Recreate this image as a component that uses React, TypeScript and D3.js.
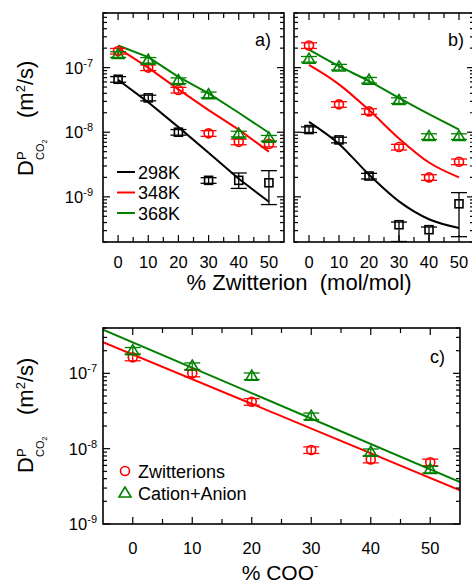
import React from 'react';
import * as d3 from 'd3';

// ---------- data ----------
const xCats = [0, 10, 20, 30, 40, 50];

// panel a (measured)
const a298 = [6.6e-8, 3.4e-8, 1.0e-8, 1.8e-9, 1.8e-9, 1.65e-9];
const a348 = [1.8e-7, 1.0e-7, 4.5e-8, 9.6e-9, 7.1e-9, 6.6e-9];
const a368 = [1.6e-7, 1.3e-7, 6.3e-8, 3.8e-8, 9.4e-9, 8.1e-9];
const a298Up = [0.1, 0.1, 0.1, 0.1, 0.3, 0.54];
const a298Dn = [0.1, 0.1, 0.1, 0.1, 0.25, 0.54];
// panel a (fits)
const fitA298 = [6.5e-8, 2.9e-8, 1.2e-8, 4.8e-9, 1.9e-9, 8.4e-10];
const fitA348 = [2.0e-7, 1.0e-7, 4.6e-8, 2.2e-8, 1.1e-8, 5.0e-9];
const fitA368 = [2.2e-7, 1.45e-7, 7.2e-8, 4.0e-8, 2.0e-8, 9.8e-9];

// panel b (measured)
const b298 = [1.1e-8, 7.6e-9, 2.1e-9, 3.7e-10, 3.1e-10, 7.8e-10];
const b348 = [2.2e-7, 2.7e-8, 2.1e-8, 5.9e-9, 2.0e-9, 3.5e-9];
const b368 = [1.35e-7, 1.02e-7, 6.4e-8, 3.1e-8, 8.6e-9, 8.6e-9];
const b298Up = [0.1, 0.1, 0.1, 0.1, 0.1, 0.49];
const b298Dn = [0.1, 0.1, 0.1, 0.45, 0.45, 0.69];
// panel b (fits)
const fitB298 = [1.45e-8, 6.6e-9, 2.2e-9, 8.5e-10, 4.5e-10, 3.3e-10];
const fitB348 = [1.1e-7, 5.5e-8, 2.2e-8, 8.0e-9, 3.4e-9, 2.0e-9];
const fitB368 = [1.9e-7, 1.05e-7, 6.2e-8, 3.4e-8, 1.9e-8, 1.1e-8];

// panel c
const cZwitterions = [1.63e-7, 1.0e-7, 4.2e-8, 9.6e-9, 7.2e-9, 6.6e-9];
const cCationAnion = [2.0e-7, 1.25e-7, 9.2e-8, 2.7e-8, 9.0e-9, 5.3e-9];
const fitCX = [-5, 55];
const fitCZwitterions = [2.6e-7, 2.8e-9];
const fitCCationAnion = [3.8e-7, 3.6e-9];

const smallErr = [0.1, 0.1, 0.1, 0.1, 0.1, 0.1];

const legendA = ['298K', '348K', '368K'];
const legendC = ['Zwitterions', 'Cation+Anion'];
const yTickExps = [-7, -8, -9];
const xTickLabels = [0, 10, 20, 30, 40, 50];

const BLACK = '#000000';
const RED = '#ff0000';
const GREEN = '#008000';
const FONT = '"Liberation Sans", Arial, Helvetica, sans-serif';

type MarkerKind = 'square' | 'circle' | 'triangle';
type Series = { vals: number[]; up: number[]; dn: number[]; color: string; marker: MarkerKind };
type Fit = { xs: number[]; vals: number[]; color: string };

function Marker({ kind, x, y, color }: { kind: MarkerKind; x: number; y: number; color: string }) {
  const sw = 1.6;
  if (kind === 'square') return <rect x={x - 4} y={y - 4} width={8} height={8} fill="none" stroke={color} strokeWidth={sw} />;
  if (kind === 'circle') return <circle cx={x} cy={y} r={4.5} fill="none" stroke={color} strokeWidth={sw} />;
  return <polygon points={`${x},${y - 6} ${x - 6},${y + 4} ${x + 6},${y + 4}`} fill="none" stroke={color} strokeWidth={sw} strokeLinejoin="miter" />;
}

interface PanelProps {
  id: string;
  left: number; right: number; top: number; bottom: number;
  yDomain: [number, number];
  series: Series[];
  fits: Fit[];
  smooth: boolean;
  yLabels: boolean;
  yLabelX: number;
  xLabelY: number;
}

function Panel(p: PanelProps) {
  const x = d3.scaleLinear().domain([-5, 55]).range([p.left, p.right]);
  const y = d3.scaleLog().domain(p.yDomain).range([p.bottom, p.top]);
  const [lo, hi] = p.yDomain;
  const yTicks: { v: number; major: boolean }[] = [];
  for (let e = Math.floor(Math.log10(lo)); e <= Math.ceil(Math.log10(hi)); e++) {
    for (let k = 1; k <= 9; k++) {
      const v = k * Math.pow(10, e);
      if (v >= lo * 0.9999 && v <= hi * 1.0001) yTicks.push({ v, major: k === 1 });
    }
  }
  const xTicks = d3.range(0, 51, 5);
  const line = d3.line<[number, number]>().x(d => x(d[0])).y(d => y(d[1]))
    .curve(p.smooth ? d3.curveMonotoneX : d3.curveLinear);
  const clipId = `clip-${p.id}`;
  return (
    <g>
      <defs>
        <clipPath id={clipId}>
          <rect x={p.left} y={p.top} width={p.right - p.left} height={p.bottom - p.top} />
        </clipPath>
      </defs>
      <g clipPath={`url(#${clipId})`}>
        {p.fits.map((f, i) => (
          <path key={i} d={line(f.xs.map((xv, j) => [xv, f.vals[j]] as [number, number])) || ''} fill="none" stroke={f.color} strokeWidth={2} strokeLinejoin="round" />
        ))}
        {p.series.map((s, si) => (
          <g key={si}>
            {s.vals.map((v, i) => {
              const cx = x(xCats[i]);
              const cy = y(v);
              const yHi = y(v * (1 + s.up[i]));
              const yLo = y(Math.max(v * (1 - s.dn[i]), 1e-12));
              return (
                <g key={i} stroke={s.color} strokeWidth={1.3}>
                  <line x1={cx} x2={cx} y1={yHi} y2={yLo} />
                  <line x1={cx - 8} x2={cx + 8} y1={yHi} y2={yHi} />
                  <line x1={cx - 8} x2={cx + 8} y1={yLo} y2={yLo} />
                  <Marker kind={s.marker} x={cx} y={cy} color={s.color} />
                </g>
              );
            })}
          </g>
        ))}
      </g>
      {/* ticks */}
      <g stroke={BLACK} strokeWidth={1.2}>
        {yTicks.map((t, i) => {
          const len = t.major ? 7 : 4;
          const yy = y(t.v);
          return (
            <g key={i}>
              <line x1={p.left} x2={p.left + len} y1={yy} y2={yy} />
              <line x1={p.right} x2={p.right - len} y1={yy} y2={yy} />
            </g>
          );
        })}
        {xTicks.map((t, i) => {
          const len = t % 10 === 0 ? 7 : 5;
          const xx = x(t);
          return (
            <g key={i}>
              <line x1={xx} x2={xx} y1={p.bottom} y2={p.bottom - len} />
              <line x1={xx} x2={xx} y1={p.top} y2={p.top + len} />
            </g>
          );
        })}
      </g>
      <rect x={p.left} y={p.top} width={p.right - p.left} height={p.bottom - p.top} fill="none" stroke={BLACK} strokeWidth={1.6} />
      {/* tick labels */}
      {xTickLabels.map((t, i) => (
        <text key={i} x={x(t)} y={p.xLabelY} textAnchor="middle" fontSize={16.5} fontFamily={FONT}>{t}</text>
      ))}
      {p.yLabels && yTickExps.map((e, i) => (
        <text key={i} x={p.yLabelX} y={y(Math.pow(10, e)) + 6} textAnchor="end" fontSize={16.5} fontFamily={FONT}>
          10<tspan fontSize={11} dy={-7}>{`-${Math.abs(e)}`}</tspan>
        </text>
      ))}
    </g>
  );
}

function YLabel({ x, y0 }: { x: number; y0: number }) {
  return (
    <text transform={`translate(${x},${y0}) rotate(-90)`} fontFamily={FONT} fontSize={22}>
      <tspan x={0} y={0}>D</tspan>
      <tspan x={16} y={-7} fontSize={13}>P</tspan>
      <tspan x={16} y={11} fontSize={11}>CO</tspan>
      <tspan y={14} fontSize={7}>2</tspan>
      <tspan x={58} y={0}>(m</tspan>
      <tspan y={-8} fontSize={13}>2</tspan>
      <tspan y={0}>/s)</tspan>
    </text>
  );
}

export default function App() {
  const seriesA: Series[] = [
    { vals: a298, up: a298Up, dn: a298Dn, color: BLACK, marker: 'square' },
    { vals: a348, up: smallErr, dn: smallErr, color: RED, marker: 'circle' },
    { vals: a368, up: smallErr, dn: smallErr, color: GREEN, marker: 'triangle' },
  ];
  const fitsA: Fit[] = [
    { xs: xCats, vals: fitA298, color: BLACK },
    { xs: xCats, vals: fitA348, color: RED },
    { xs: xCats, vals: fitA368, color: GREEN },
  ];
  const seriesB: Series[] = [
    { vals: b298, up: b298Up, dn: b298Dn, color: BLACK, marker: 'square' },
    { vals: b348, up: smallErr, dn: smallErr, color: RED, marker: 'circle' },
    { vals: b368, up: smallErr, dn: smallErr, color: GREEN, marker: 'triangle' },
  ];
  const fitsB: Fit[] = [
    { xs: xCats, vals: fitB298, color: BLACK },
    { xs: xCats, vals: fitB348, color: RED },
    { xs: xCats, vals: fitB368, color: GREEN },
  ];
  const seriesC: Series[] = [
    { vals: cZwitterions, up: smallErr, dn: smallErr, color: RED, marker: 'circle' },
    { vals: cCationAnion, up: smallErr, dn: smallErr, color: GREEN, marker: 'triangle' },
  ];
  const fitsC: Fit[] = [
    { xs: fitCX, vals: fitCZwitterions, color: RED },
    { xs: fitCX, vals: fitCCationAnion, color: GREEN },
  ];
  const legendColors = [BLACK, RED, GREEN];
  const legendCMarkers: MarkerKind[] = ['circle', 'triangle'];
  const legendCColors = [RED, GREEN];
  return (
    <svg width={472} height={586} style={{ position: 'absolute', left: 0, top: 0, background: '#fff' }} fontFamily={FONT}>
      <rect x={0} y={0} width={472} height={586} fill="#fff" />
      <Panel id="a" left={103} right={284} top={13} bottom={242} yDomain={[2e-10, 7e-7]} series={seriesA} fits={fitsA} smooth={false} yLabels={true} yLabelX={93} xLabelY={268} />
      <Panel id="b" left={294} right={474} top={13} bottom={242} yDomain={[2e-10, 7e-7]} series={seriesB} fits={fitsB} smooth={true} yLabels={false} yLabelX={0} xLabelY={268} />
      <Panel id="c" left={103} right={460} top={328} bottom={524} yDomain={[1e-9, 4e-7]} series={seriesC} fits={fitsC} smooth={false} yLabels={true} yLabelX={97} xLabelY={554} />

      <text x={271} y={46} textAnchor="end" fontSize={18}>a)</text>
      <text x={464} y={46} textAnchor="end" fontSize={18}>b)</text>
      <text x={445} y={363} textAnchor="end" fontSize={18}>c)</text>

      {legendA.map((l, i) => (
        <g key={l}>
          <line x1={117} x2={135} y1={172 + i * 20.5} y2={172 + i * 20.5} stroke={legendColors[i]} strokeWidth={2} />
          <text x={138} y={172 + i * 20.5 + 6.5} fontSize={18}>{l}</text>
        </g>
      ))}
      {legendC.map((l, i) => (
        <g key={l}>
          <Marker kind={legendCMarkers[i]} x={125} y={471 + i * 22} color={legendCColors[i]} />
          <text x={138} y={471 + i * 22 + 6.5} fontSize={18}>{l}</text>
        </g>
      ))}

      <text x={299} y={290} textAnchor="middle" fontSize={22} xmlSpace="preserve" style={{ whiteSpace: 'pre' }}>{'% Zwitterion  (mol/mol)'}</text>
      <text x={280} y={580} textAnchor="middle" fontSize={21}>
        % COO<tspan fontSize={13} dy={-10}>-</tspan>
      </text>

      <YLabel x={33} y0={176} />
      <YLabel x={33} y0={473} />
    </svg>
  );
}
